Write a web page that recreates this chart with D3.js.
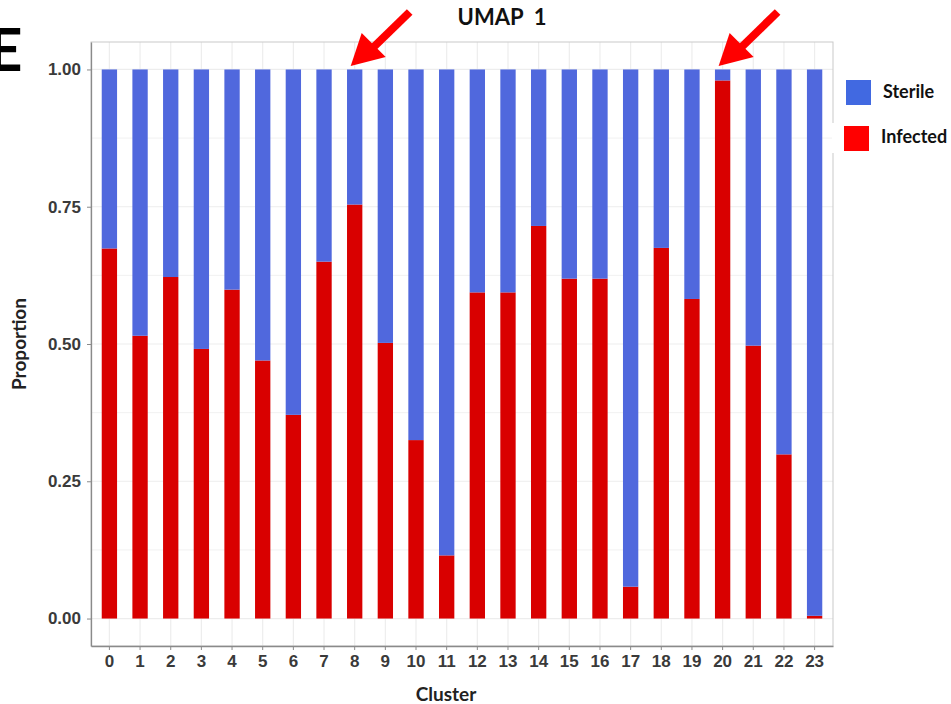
<!DOCTYPE html>
<html>
<head>
<meta charset="utf-8">
<script src="https://cdn.jsdelivr.net/npm/d3@7"></script>
<style>
  body { margin: 0; background: #fff; }
  svg { font-family: Lato, "Open Sans", sans-serif; }
</style>
</head>
<body>
<div class="chart"></div>
<script>
// data
let clusters = ["0","1","2","3","4","5","6","7","8","9","10","11","12","13","14","15","16","17","18","19","20","21","22","23"]
let infected = [0.674,0.515,0.622,0.491,0.599,0.470,0.371,0.650,0.754,0.502,0.325,0.115,0.594,0.594,0.715,0.619,0.619,0.058,0.675,0.582,0.980,0.497,0.299,0.005]
let sterile  = [0.326,0.485,0.378,0.509,0.401,0.530,0.629,0.350,0.246,0.498,0.675,0.885,0.406,0.406,0.285,0.381,0.381,0.942,0.325,0.418,0.020,0.503,0.701,0.995]
let groups = ["Infected", "Sterile"]
let yTicks = [0, 0.25, 0.5, 0.75, 1]
let yMinor = [0.125, 0.375, 0.625, 0.875]
let legendItems = ["Sterile", "Infected"]
let arrowAt = ["8", "20"]

let outerWidth = 951
let outerHeight = 704
let margin = {top: 42, bottom: 58, left: 91, right: 118}
let width = outerWidth - margin.left - margin.right
let height = outerHeight - margin.top - margin.bottom

let barColor = {Infected: "#d90000", Sterile: "#5068dd"}
let keyColor = {Infected: "#ff0000", Sterile: "#4169e1"}

let svg = d3.select(".chart")
    .append("svg")
    .attr("width", outerWidth)
    .attr("height", outerHeight)

let g = svg.append("g")
    .attr("transform", `translate(${margin.left}, ${margin.top})`)

// Scales
let xScale = d3.scaleBand()
    .domain(clusters)
    .range([0, width])
    .paddingInner(0.5)
    .paddingOuter(0.35)

let yScale = d3.scaleLinear()
    .domain([-0.05, 1.05])
    .range([height, 0])

// grid
g.append("g").selectAll("line")
    .data(yTicks.concat(yMinor))
    .enter().append("line")
    .attr("x1", 0).attr("x2", width)
    .attr("y1", d => yScale(d)).attr("y2", d => yScale(d))
    .attr("stroke", "#ededed")
    .attr("stroke-width", d => yTicks.includes(d) ? 1.2 : 0.8)

g.append("g").selectAll("line")
    .data(clusters)
    .enter().append("line")
    .attr("x1", d => xScale(d) + xScale.bandwidth() / 2)
    .attr("x2", d => xScale(d) + xScale.bandwidth() / 2)
    .attr("y1", 0).attr("y2", height)
    .attr("stroke", "#ededed")
    .attr("stroke-width", 1.2)

// stacked bars
let table = clusters.map((c, i) => ({cluster: c, Infected: infected[i], Sterile: sterile[i]}))
let series = d3.stack().keys(groups)(table)

g.append("g").selectAll("g")
    .data(series)
    .enter().append("g")
    .attr("fill", d => barColor[d.key])
    .selectAll("rect")
    .data(d => d)
    .enter().append("rect")
    .attr("x", d => xScale(d.data.cluster))
    .attr("width", xScale.bandwidth())
    .attr("y", d => yScale(d[1]))
    .attr("height", d => yScale(d[0]) - yScale(d[1]))

// panel border
g.append("rect")
    .attr("width", width).attr("height", height)
    .attr("fill", "none")
    .attr("stroke", "#c9c9c9")

// Axes
const xAxis = d3.axisBottom(xScale).tickSize(4).tickSizeOuter(0).tickPadding(5)
const yAxis = d3.axisLeft(yScale).tickValues(yTicks).tickFormat(d3.format(".2f"))
    .tickSize(4).tickSizeOuter(0).tickPadding(6)

let xg = g.append("g")
    .attr("class", "axis x-axis")
    .attr("transform", `translate(0, ${height})`)
    .call(xAxis)

let yg = g.append("g")
    .attr("class", "axis y-axis")
    .call(yAxis)

for (let ax of [xg, yg]) {
    ax.select(".domain").attr("stroke", "#8a8a8a").attr("stroke-width", 1.3)
    ax.selectAll(".tick line").attr("stroke", "#8a8a8a")
    ax.selectAll(".tick text")
        .attr("fill", "#3a3a3a")
        .attr("font-size", 17)
        .attr("font-weight", "bold")
}

// Axis labels
svg.append("text")
    .attr("x", 446)
    .attr("y", 701)
    .attr("text-anchor", "middle")
    .attr("font-size", 19)
    .attr("font-weight", "bold")
    .attr("fill", "#222")
    .text("Cluster")

svg.append("text")
    .attr("transform", `translate(26, ${margin.top + yScale(0.5)}) rotate(-90)`)
    .attr("text-anchor", "middle")
    .attr("font-size", 19)
    .attr("font-weight", "bold")
    .attr("fill", "#222")
    .text("Proportion")

// title and panel letter
svg.append("text")
    .attr("x", 502)
    .attr("y", 25)
    .attr("text-anchor", "middle")
    .attr("font-size", 22)
    .attr("font-weight", "bold")
    .attr("fill", "#111")
    .attr("xml:space", "preserve")
    .style("white-space", "pre")
    .text("UMAP  1")

svg.append("text")
    .attr("x", -12)
    .attr("y", 71)
    .attr("font-size", 60)
    .attr("font-weight", "bold")
    .attr("fill", "#000")
    .text("E")

// Legend
let legend = svg.append("g").attr("class", "legend")
legend.append("rect")
    .attr("x", 832)
    .attr("y", 123)
    .attr("width", 119)
    .attr("height", 30)
    .attr("fill", "#fff")

legend.selectAll("rect.key")
    .data(legendItems)
    .enter().append("rect")
    .attr("class", "key")
    .attr("x", (d, i) => 846 - i * 2)
    .attr("y", (d, i) => 80 + i * 46)
    .attr("width", 25)
    .attr("height", 25)
    .attr("fill", d => keyColor[d])

legend.selectAll("text")
    .data(legendItems)
    .enter().append("text")
    .attr("x", (d, i) => 883 - i * 2)
    .attr("y", (d, i) => 98 + i * 45)
    .attr("font-size", 18)
    .attr("font-weight", "bold")
    .attr("fill", "#111")
    .text(d => d)

// red arrows pointing at bars
let arrows = svg.append("g").attr("class", "arrows")
arrows.selectAll("line")
    .data(arrowAt)
    .enter().append("line")
    .attr("x1", d => margin.left + xScale(d) + xScale.bandwidth() / 2 + 55)
    .attr("y1", 12)
    .attr("x2", d => margin.left + xScale(d) + xScale.bandwidth() / 2 + 18)
    .attr("y2", 48)
    .attr("stroke", "#ff0000")
    .attr("stroke-width", 8)

arrows.selectAll("path")
    .data(arrowAt)
    .enter().append("path")
    .attr("d", d => {
        let tx = margin.left + xScale(d) + xScale.bandwidth() / 2 - 4
        let ty = 66
        return `M${tx},${ty} L${tx + 11},${ty - 33} L${tx + 35},${ty - 9} Z`
    })
    .attr("fill", "#ff0000")
</script>
</body>
</html>
